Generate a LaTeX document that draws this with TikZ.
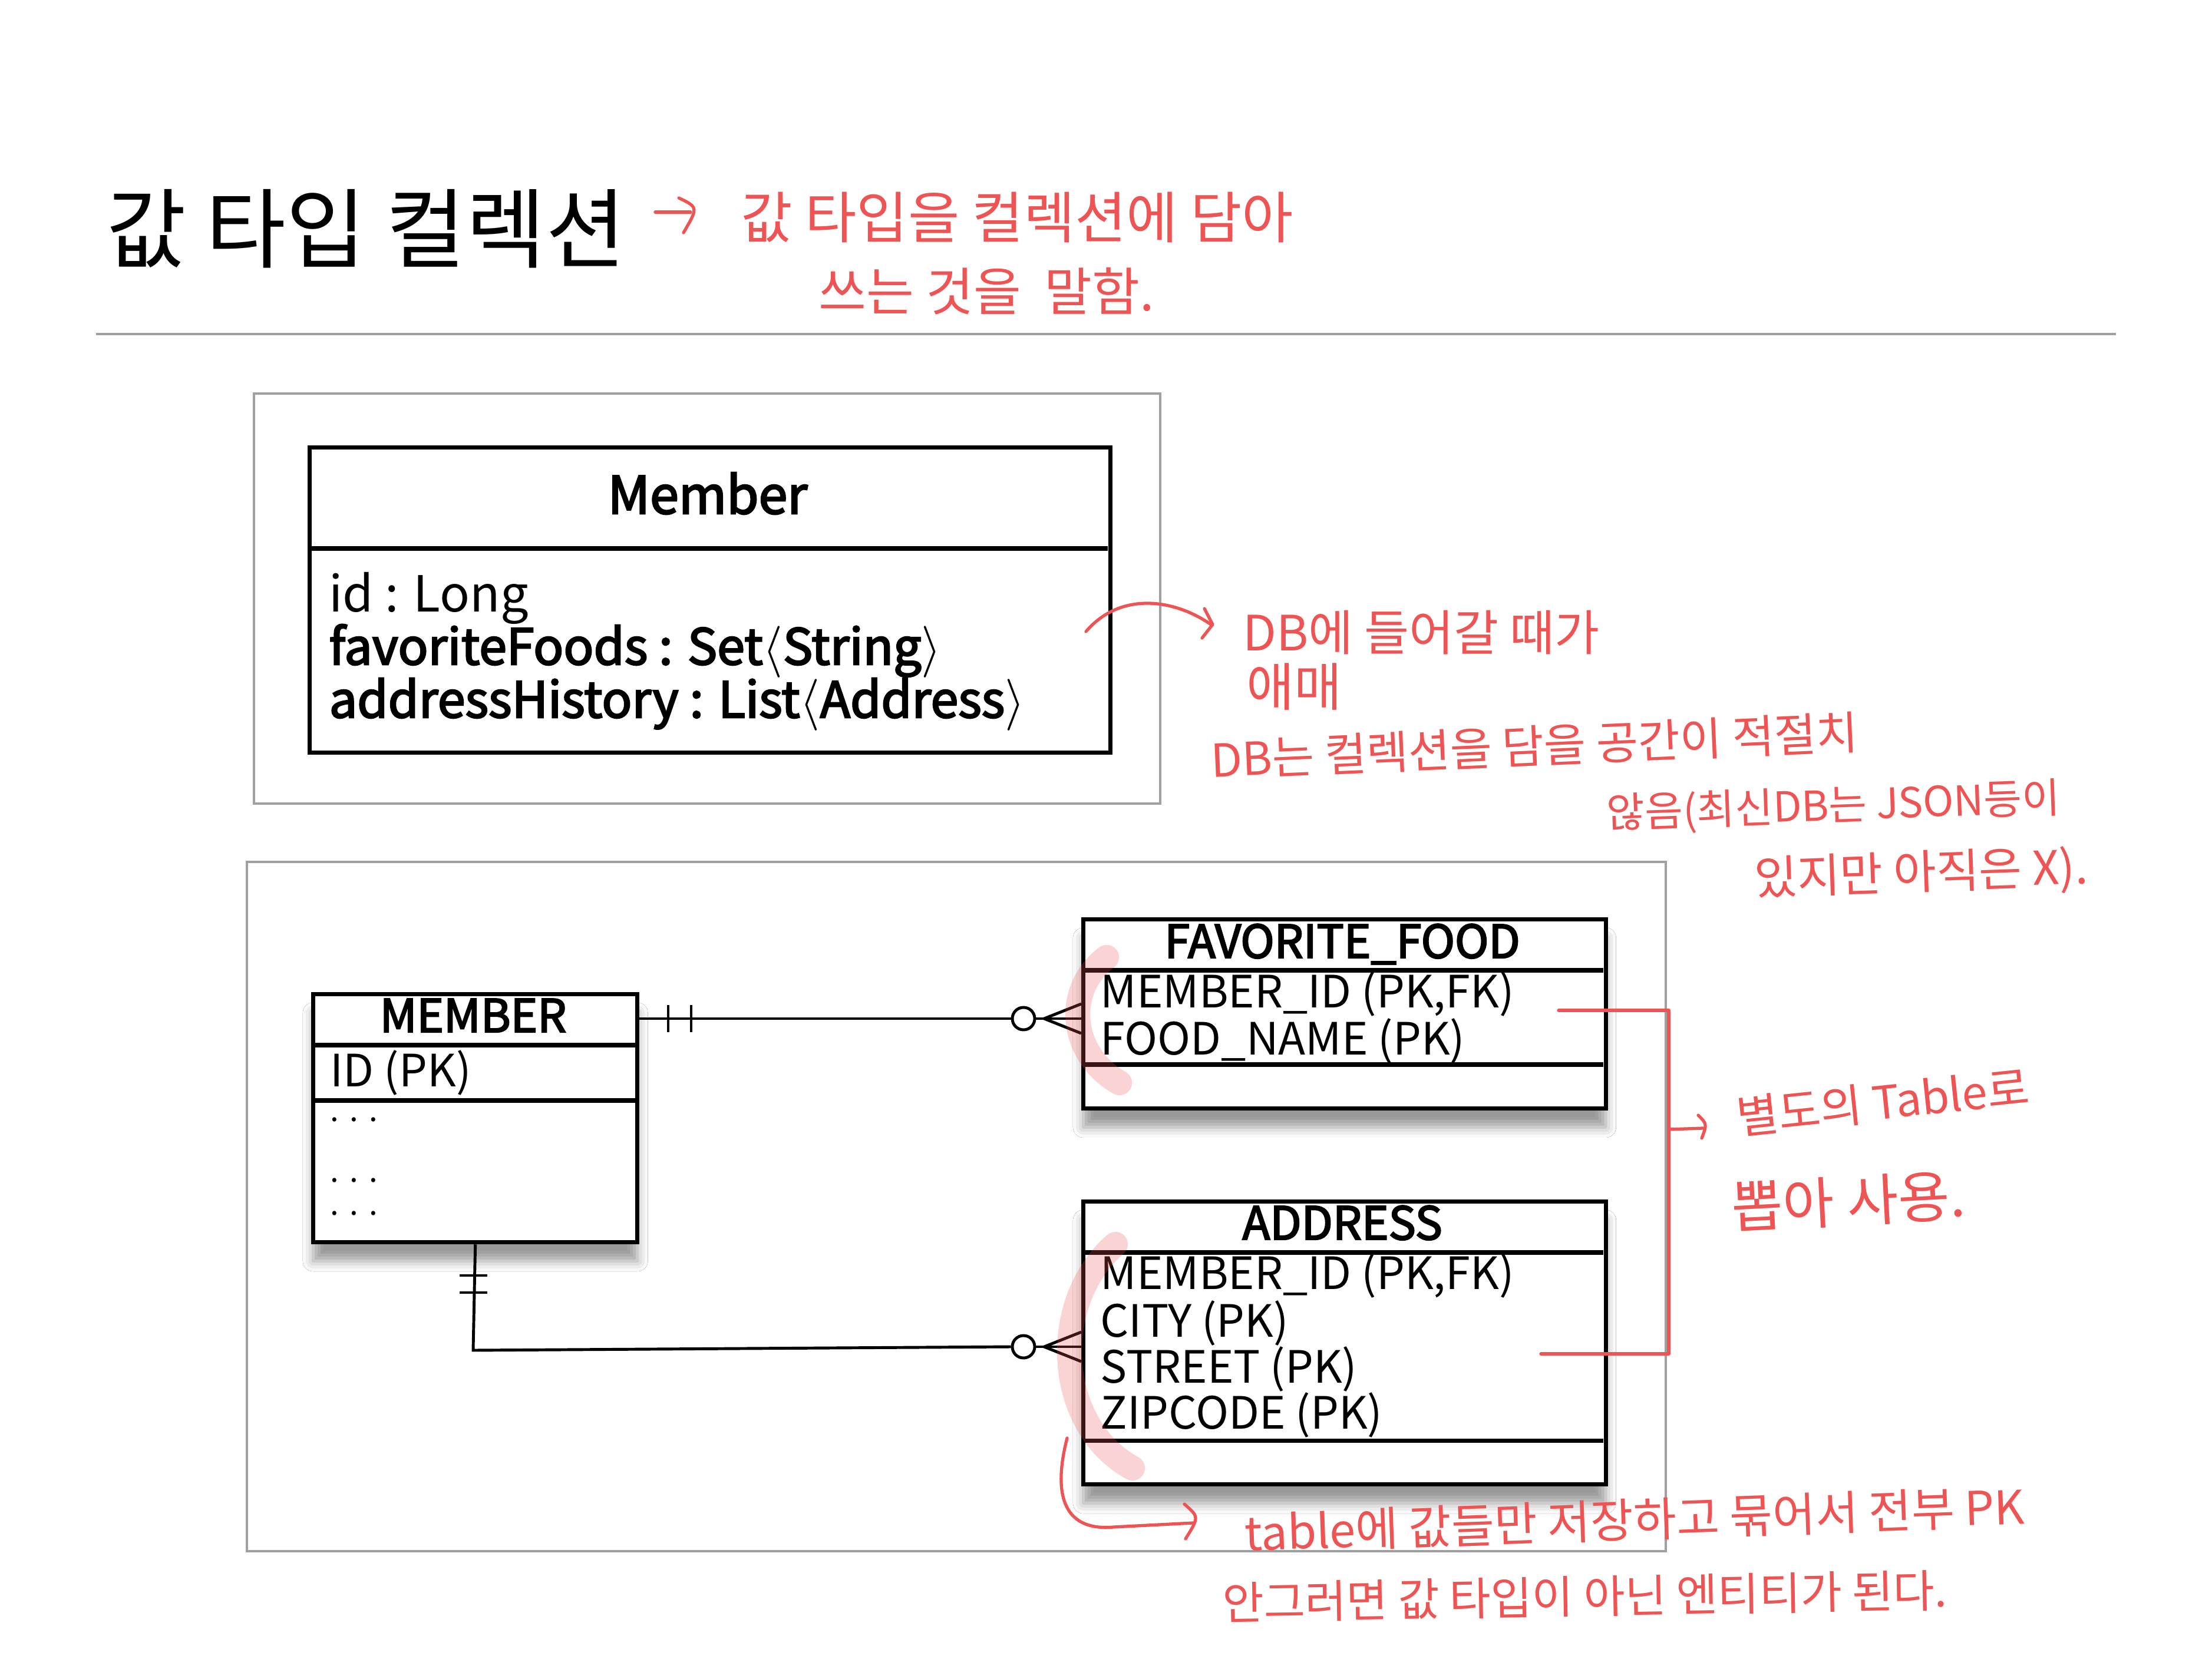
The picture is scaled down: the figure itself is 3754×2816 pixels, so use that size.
\documentclass[tikz,border=0pt]{standalone}
\usepackage{fontspec}
\setmainfont{Noto Sans CJK KR}
\newfontfamily\medfont{Noto Sans CJK KR}[FakeBold=3]
\usetikzlibrary{shadows.blur}
\definecolor{hand}{RGB}{239,84,84}
\definecolor{framegray}{RGB}{160,160,160}
\newcommand\fsz[1]{\fontsize{#1pt}{#1pt}\selectfont}
\newcommand\lang{$\langle$}
\newcommand\rang{$\rangle$}
\newcommand\tridots{.\hspace{0.35em}.\hspace{0.35em}.}
\tikzset{
  grayframe/.style={draw=framegray, line width=1.2pt},
  classbox/.style={draw=black, line width=2pt, inner sep=0pt, anchor=north west},
  tbl/.style={draw=black, line width=2pt, fill=white, inner sep=0pt, anchor=north west,
    blur shadow={shadow xshift=0pt, shadow yshift=-9pt, shadow blur radius=5pt, shadow opacity=40}},
  tline/.style={line width=2pt},
  conn/.style={line width=1.4pt},
  circ/.style={circle, draw, line width=1.4pt, inner sep=0pt, minimum size=0.38cm, fill=white},
  redline/.style={draw=hand, line width=1.5pt, line cap=round, line join=round},
  hl/.style={draw=hand, opacity=0.25, line width=12pt, line cap=round},
  hw/.style={text=hand, inner sep=0pt, text height=0.75em, text depth=0.05em},
  txt/.style={inner sep=0pt, anchor=base west},
  hdr/.style={inner sep=0pt, anchor=base, font=\medfont\fsz{22}},
  row/.style={inner sep=0pt, anchor=base west, font=\fsz{21.5}},
  dots/.style={inner sep=0pt, anchor=base west, font=\fsz{15}},
}
\begin{document}
\begin{tikzpicture}[x=0.01cm, y=-0.01cm]
\fill[white] (0,0) rectangle (3754,2816);
\path[use as bounding box] (0,0) rectangle (3754,2816);

% title
\node[txt, font=\fsz{42}] (title) at (180,444) {값 타입 컬렉션};
\draw[framegray, line width=1.4pt] (163,567) -- (3591,567);

% frames
\draw[grayframe] (431,668) rectangle (1969,1364);
\draw[grayframe] (419,1463) rectangle (2827,2633);

% UML class Member
\node[classbox, minimum width=13.58cm, minimum height=5.18cm] (mclass) at (522,756) {};
\draw[tline] (522,931) -- (1880,931);
\node[inner sep=0pt, anchor=base, font=\medfont\fsz{25}] (mname) at (1201,872) {Member};
\node[txt, font=\fsz{24}] (a1) at (558,1039) {id : Long};
\node[txt, font=\medfont\fsz{24}] (a2) at (558,1128) {favoriteFoods : Set\lang String\rang};
\node[txt, font=\medfont\fsz{24}] (a3) at (558,1218) {addressHistory : List\lang Address\rang};

% ERD MEMBER
\node[tbl, minimum width=5.5cm, minimum height=4.21cm] (member) at (528,1684) {};
\draw[tline] (528,1774) -- (1078,1774);
\draw[tline] (528,1868) -- (1078,1868);
\node[hdr] (mh) at (803,1752) {MEMBER};
\node[row] (mr1) at (560,1844) {ID (PK)};
\node[dots] (mr2) at (560,1903) {\tridots};
\node[dots] (mr3) at (560,2006) {\tridots};
\node[dots] (mr4) at (560,2062) {\tridots};

% FAVORITE_FOOD
\node[tbl, minimum width=8.86cm, minimum height=3.21cm] (ff) at (1835,1557) {};
\draw[tline] (1835,1647) -- (2721,1647);
\draw[tline] (1835,1807) -- (2721,1807);
\node[hdr] (fh) at (2278,1626) {FAVORITE\_FOOD};
\node[row] (fr1) at (1867,1710) {MEMBER\_ID (PK,FK)};
\node[row] (fr2) at (1867,1790) {FOOD\_NAME (PK)};

% ADDRESS
\node[tbl, minimum width=8.86cm, minimum height=4.80cm] (addr) at (1835,2036) {};
\draw[tline] (1835,2126) -- (2721,2126);
\draw[tline] (1835,2445) -- (2721,2445);
\node[hdr] (ah) at (2278,2104) {ADDRESS};
\node[row] (ar1) at (1867,2188) {MEMBER\_ID (PK,FK)};
\node[row] (ar2) at (1867,2269) {CITY (PK)};
\node[row] (ar3) at (1867,2347) {STREET (PK)};
\node[row] (ar4) at (1867,2425) {ZIPCODE (PK)};

% connector MEMBER -- FAVORITE_FOOD
\node[circ] (o1) at (1737,1729) {};
\coordinate (k1) at (1772,1729);
\draw[conn] (member.east |- o1) -- (o1.west);
\draw[conn] (1134,1706) -- (1134,1752);
\draw[conn] (1173,1706) -- (1173,1752);
\draw[conn] (o1.east) -- (ff.west |- o1);
\draw[conn] (ff.west |- 0,1704) -- (k1) -- (ff.west |- 0,1754);

% connector MEMBER -- ADDRESS
\node[circ] (o2) at (1737,2286) {};
\coordinate (k2) at (1772,2286);
\coordinate (bend) at (803,2292);
\draw[conn] (member.south) -- (bend) -- (o2.west);
\draw[conn] (780,2165) -- (827,2165);
\draw[conn] (780,2194) -- (827,2194);
\draw[conn] (o2.east) -- (addr.west |- o2);
\draw[conn] (addr.west |- 0,2261) -- (k2) -- (addr.west |- 0,2311);

% pink highlights
\draw[hl] (1878,1625) .. controls (1805,1680) and (1815,1790) .. (1900,1838);
\draw[hl] (1893,2112) .. controls (1780,2210) and (1790,2420) .. (1922,2492);

% handwritten notes
\draw[redline] (1112,360) -- (1172,360);
\draw[redline] (1152,336) .. controls (1185,352) .. (1160,395);
\node[hw, anchor=base west, font=\fsz{27}] (n1a) at (1257,405) {값 타입을 컬렉션에 담아};
\node[hw, anchor=base west, font=\fsz{25}] (n1b) at (1389,528) {쓰는 것을\ \ 말함.};

\draw[redline] (1843,1072) .. controls (1900,1005) and (1990,1015) .. (2055,1060);
\draw[redline] (2044,1033) -- (2058,1060) -- (2040,1083);
\node[hw, anchor=base west, font=\fsz{23.5}] (n2a) at (2109,1105) {DB에 들어갈 때가};
\node[hw, anchor=base west, font=\fsz{25}] (n2b) at (2115,1198) {애매};
\node[hw, rotate=2.5, font=\fsz{22}] (n3a) at (2605,1283) {DB는 컬렉션을 담을 공간이 적절치};
\node[hw, rotate=2, font=\fsz{20}] (n3b) at (3112,1380) {않음(최신DB는 JSON등이};
\node[hw, rotate=2, font=\fsz{22.5}] (n3c) at (3261,1497) {있지만 아직은 X).};

\draw[redline] (2645,1715) -- (2832,1715) -- (2832,2298) -- (2615,2298);
\draw[redline] (2832,1917) -- (2890,1915);
\draw[redline] (2882,1893) .. controls (2897,1908) .. (2888,1932);
\node[hw, rotate=6, font=\fsz{22}] (n4a) at (3197,1887) {별도의 Table로};
\node[hw, rotate=3, font=\fsz{27}] (n4b) at (3138,2062) {뽑아 사용.};

\draw[redline] (1811,2441) .. controls (1788,2530) and (1800,2600) .. (1890,2592) -- (2025,2585);
\draw[redline] (2010,2553) .. controls (2035,2575) .. (2012,2612);
\node[hw, rotate=2, font=\fsz{22.5}] (n5a) at (2775,2597) {table에 값들만 저장하고 묶어서 전부 PK};
\node[hw, rotate=1, font=\fsz{21.7}] (n5b) at (2690,2726) {안그러면 값 타입이 아닌 엔티티가 된다.};
\end{tikzpicture}
\end{document}
